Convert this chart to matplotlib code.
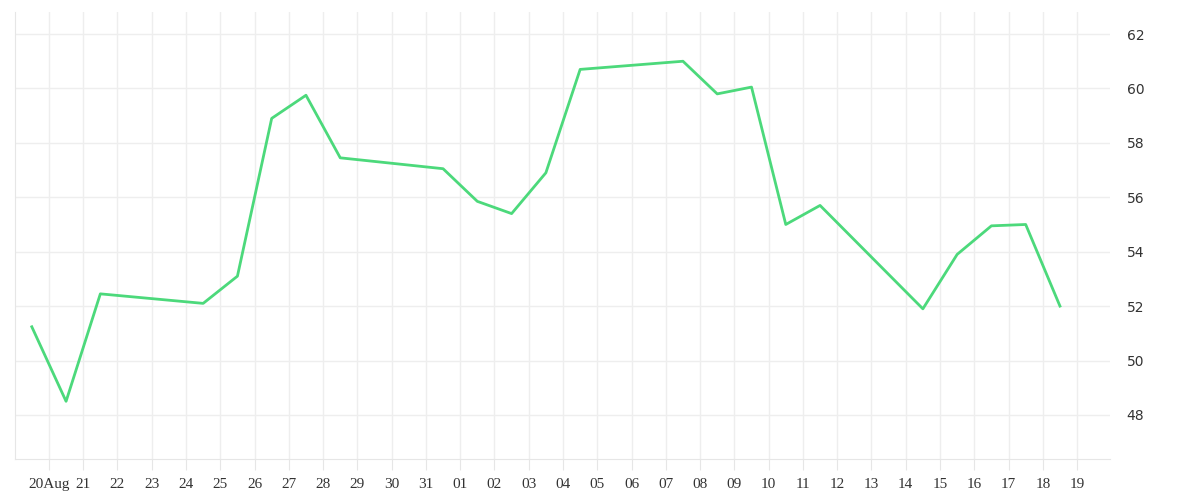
import matplotlib
matplotlib.use("Agg")
import matplotlib.pyplot as plt
import pandas as pd

dates = ["2025-08-20","2025-08-21","2025-08-22","2025-08-25","2025-08-26","2025-08-27",
         "2025-08-28","2025-08-29","2025-09-01","2025-09-02","2025-09-03","2025-09-04",
         "2025-09-05","2025-09-08","2025-09-09","2025-09-10","2025-09-11","2025-09-12",
         "2025-09-15","2025-09-16","2025-09-17","2025-09-18","2025-09-19"]
values = [51.24,48.5,52.45,52.1,53.1,58.9,59.75,57.45,57.05,55.85,55.4,56.9,
          60.7,61.0,59.8,60.05,55.0,55.7,51.9,53.9,54.95,55.0,52.0]
tick_days = pd.date_range("2025-08-20","2025-09-19")
tick_labels = ["20Aug"] + [d.strftime("%d") for d in tick_days[1:]]
y_ticks = [48,50,52,54,56,58,60,62]

base = pd.Timestamp("2025-08-20")
xs = [(pd.Timestamp(d)-base).days - 0.5 for d in dates]
tx = [(d-base).days for d in tick_days]

fig = plt.figure(figsize=(12,5), dpi=100)
ax = fig.add_axes([15/1200, 41/500, 1095/1200, 447/500])
ax.plot(xs, values, color="#4cd97b", lw=2)
ax.set_xlim(-0.99, 30.96)
ax.set_ylim(46.38, 62.81)
ax.set_xticks(tx)
ax.set_xticklabels(tick_labels, family="Liberation Serif", fontsize=11, color="#333")
ax.yaxis.tick_right()
ax.set_yticks(y_ticks)
ax.set_yticklabels([str(v) for v in y_ticks], fontsize=10, color="#333")
ax.tick_params(axis="y", length=0, pad=12)
ax.tick_params(axis="x", length=8, color="#e6e6e6", pad=6)
ax.grid(True, color="#eeeeee", lw=1)
ax.set_axisbelow(True)
for s in ["top","right"]:
    ax.spines[s].set_visible(False)
ax.spines["left"].set_color("#e6e6e6")
ax.spines["bottom"].set_color("#e6e6e6")
fig.savefig("out.png")
